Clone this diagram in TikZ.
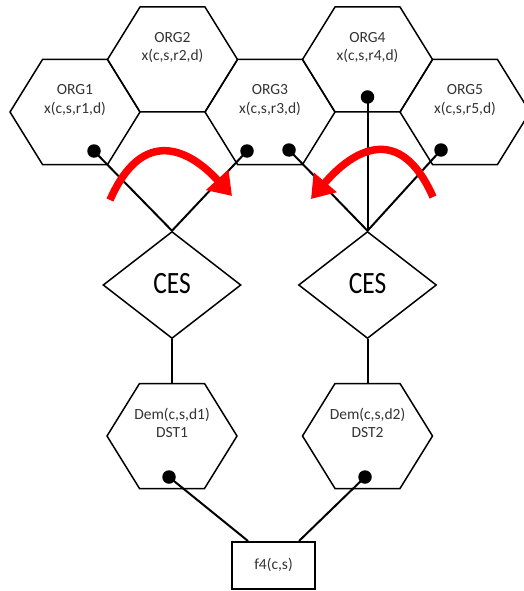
\documentclass[tikz,border=0pt]{standalone}
\usepackage{fontspec}
\setmainfont{Carlito}
\usetikzlibrary{shapes.geometric,arrows.meta,calc}
\definecolor{labelgray}{HTML}{333333}
\definecolor{arcred}{HTML}{FF0000}

% hexagon outline around a centre coordinate (x=1pt, y=-1pt)
\newcommand\hexcell[1]{%
  \draw[cell] (#1) ++(-65,0) -- ++(32.5,-52.5) -- ++(65,0) -- ++(32.5,52.5)
    -- ++(-32.5,52.5) -- ++(-65,0) -- cycle;}

\begin{document}
\begin{tikzpicture}[x=1pt,y=-1pt,
  cell/.style={draw=black,line width=1.5pt,line join=miter},
  lbl/.style={align=center,text=labelgray,font=\fontsize{15.5}{18.5}\selectfont,inner sep=0pt},
  wire/.style={draw=black,line width=2pt},
  dot/.style={circle,fill=black,inner sep=0pt,minimum size=13.5pt},
  decision/.style={diamond,draw=black,line width=1.5pt,minimum width=138pt,minimum height=107pt,inner sep=0pt,
    text=black,font=\fontsize{31}{33}\selectfont},
  swing/.style={draw=arcred,line width=7.5pt,-{Triangle[length=22pt,width=29pt]}}]
\useasboundingbox (0,0) rectangle (524,591);

% hexagon centres
\coordinate (h1) at (75,112);
\coordinate (h2) at (172.5,59.5);
\coordinate (h3) at (270,112);
\coordinate (h4) at (367.5,59.5);
\coordinate (h5) at (465,112);
\coordinate (h6) at (172,436);
\coordinate (h7) at (367.5,436);
\foreach \h in {h1,h2,h3,h4,h5,h6,h7} {\hexcell{\h}}

% organisation and destination labels
\node[lbl] (org1) at (75,100) {ORG1\\x(c,s,r1,d)};
\node[lbl] (org2) at (172.5,47.5) {ORG2\\x(c,s,r2,d)};
\node[lbl] (org3) at (270,100) {ORG3\\x(c,s,r3,d)};
\node[lbl] (org4) at (367.5,47.5) {ORG4\\x(c,s,r4,d)};
\node[lbl] (org5) at (465,100) {ORG5\\x(c,s,r5,d)};
\node[lbl] (dst1) at (172,423) {Dem(c,s,d1)\\DST1};
\node[lbl] (dst2) at (367.5,423) {Dem(c,s,d2)\\DST2};

% decision diamonds
\node[decision] (ces1) at (172,285) {\raisebox{3pt}{\scalebox{0.82}[1]{CES}}};
\node[decision] (ces2) at (367.5,285) {\raisebox{3pt}{\scalebox{0.82}[1]{CES}}};

% aggregation box
\node[draw=black,line width=2pt,minimum width=83pt,minimum height=47pt,inner sep=0pt,
  text=labelgray,font=\fontsize{15.5}{18}\selectfont] (f4) at (273.5,565.5) {\raisebox{3pt}{f4(c,s)}};
\coordinate (f4l) at ($(f4.north)+(-25.5,0)$);
\coordinate (f4r) at ($(f4.north)+(25.5,0)$);

% connection points
\node[dot] (p1) at (94,151) {};
\node[dot] (p3a) at (247,151) {};
\node[dot] (p3b) at (289,150) {};
\node[dot] (p4) at (367.5,97) {};
\node[dot] (p5) at (441,150) {};
\node[dot] (q1) at (169,477) {};
\node[dot] (q2) at (365,477) {};

% connectors
\draw[wire] (p1.center) -- (ces1.north);
\draw[wire] (p3a.center) -- (ces1.north);
\draw[wire] (p3b.center) -- (ces2.north);
\draw[wire] (p4.center) -- (ces2.north);
\draw[wire] (p5.center) -- (ces2.north);
\draw[wire] (ces1.south) -- (h6 |- 0,383.5);
\draw[wire] (ces2.south) -- (h7 |- 0,383.5);
\draw[wire] (q1.center) -- (f4l);
\draw[wire] (q2.center) -- (f4r);

% exchange arcs
\coordinate (a1s) at (110,200);
\coordinate (a1e) at (232,196);
\coordinate (a2s) at (433,197);
\coordinate (a2e) at (311,199);
\draw[swing] (a1s) .. controls (143,125) and (190,150) .. (a1e);
\draw[swing] (a2s) .. controls (400,122) and (353,150) .. (a2e);
\end{tikzpicture}
\end{document}
